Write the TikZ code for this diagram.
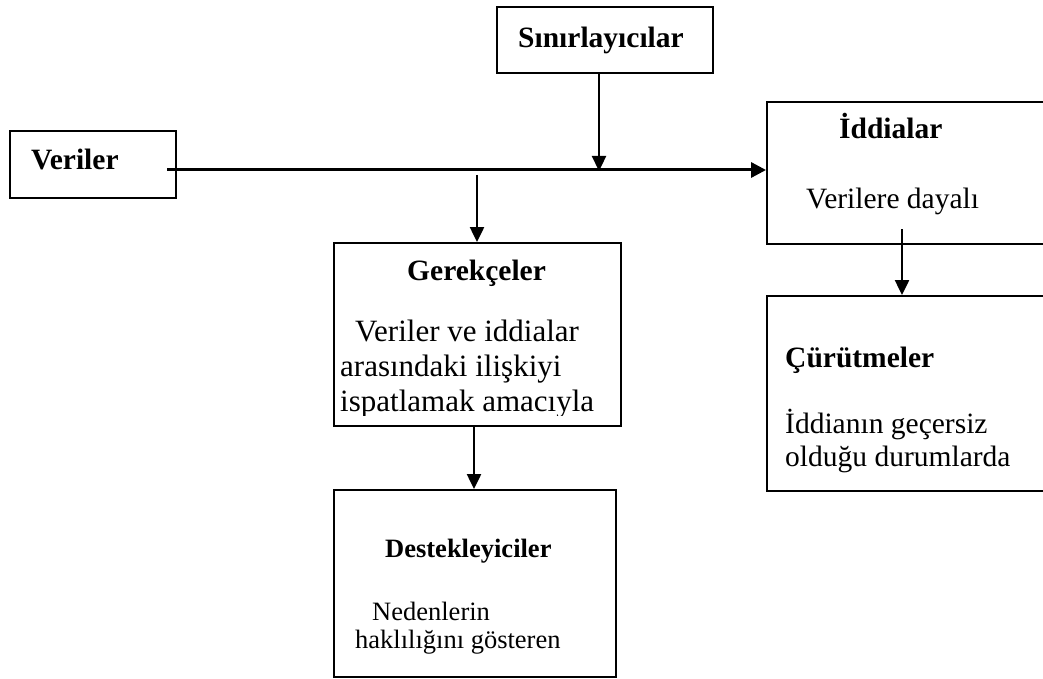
\documentclass[tikz,border=0pt]{standalone}
\usepackage{fontspec}
\setmainfont{Liberation Serif}
\usetikzlibrary{arrows.meta}
\begin{document}
\begin{tikzpicture}[x=1pt,y=-1pt,
  box/.style={draw=black,line width=1.9pt,rectangle,inner sep=0pt},
  txt/.style={inner sep=0pt,anchor=base west,font=\fontsize{29.5}{34}\selectfont},
  ttl/.style={txt,font=\fontsize{29.5}{34}\selectfont\bfseries},
  gtxt/.style={inner sep=0pt,anchor=base west,font=\fontsize{31}{36}\selectfont},
  dtxt/.style={inner sep=0pt,anchor=base west,font=\fontsize{26.5}{31}\selectfont},
  dttl/.style={dtxt,font=\fontsize{26.5}{31}\selectfont\bfseries},
  arr/.style={line width=2.3pt,-{Triangle[length=15pt,width=14pt]}},
  mainarr/.style={line width=3pt,-{Triangle[length=15pt,width=15pt]}}]
\useasboundingbox[fill=white] (0,0) rectangle (1043,679);
% boxes
\node[box,minimum width=166pt,minimum height=67pt] (veriler) at (93,164.5) {};
\node[box,minimum width=216pt,minimum height=66pt] (sinir) at (605,40) {};
\node[box,minimum width=290pt,minimum height=142pt] (iddia) at (912,173) {};
\node[box,minimum width=290pt,minimum height=195pt] (curut) at (912,393.5) {};
\node[box,minimum width=287pt,minimum height=183pt] (gerek) at (477.5,334.5) {};
\node[box,minimum width=282pt,minimum height=187pt] (destek) at (475,583.5) {};
% texts
\node[ttl] (tveriler) at (31,170) {Veriler};
\node[ttl] (tsinir) at (518,48) {Sınırlayıcılar};
\node[ttl] (tiddia) at (839,139) {İddialar};
\node[txt] (tiddia2) at (806,208) {Verilere dayalı};
\node[ttl] (tgerek) at (407,280) {Gerekçeler};
\node[gtxt] (tgerek1) at (355,341) {Veriler ve iddialar};
\node[gtxt] (tgerek2) at (340,376) {arasındaki ilişkiyi};
\begin{scope}
\clip (334,380) rectangle (621,415);
\node[gtxt] (tgerek3) at (340,411) {ispatlamak amacıyla};
\end{scope}
\node[dttl] (tdestek) at (385,557) {Destekleyiciler};
\node[dtxt] (tdestek1) at (372,620) {Nedenlerin};
\node[dtxt] (tdestek2) at (355,648) {haklılığını gösteren};
\node[ttl] (tcurut) at (785,367) {Çürütmeler};
\node[txt] (tcurut1) at (785,433) {İddianın geçersiz};
\node[txt] (tcurut2) at (785,466) {olduğu durumlarda};
% connector points
\coordinate (mstart) at (167,170);
\coordinate (jsinir) at (599,171);
\coordinate (jgerek) at (477,175);
\coordinate (sdestek) at (474,426);
\coordinate (scurut) at (902,229);
% connectors
\draw[mainarr] (mstart) -- (mstart -| iddia.west);
\draw[arr] (sinir.south -| jsinir) -- (jsinir);
\draw[arr] (jgerek) -- (jgerek |- gerek.north);
\draw[arr] (sdestek) -- (sdestek |- destek.north);
\draw[arr] (scurut) -- (scurut |- curut.north);
\end{tikzpicture}
\end{document}
